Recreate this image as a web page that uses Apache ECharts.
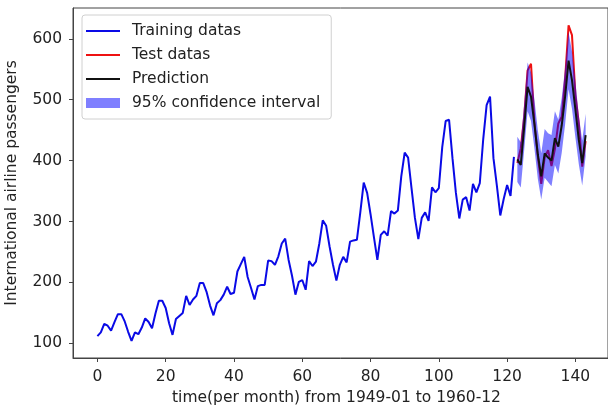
<!DOCTYPE html>
<html>
<head>
<meta charset="utf-8">
<script src="https://cdn.jsdelivr.net/npm/echarts@6/dist/echarts.min.js"></script>
<style>html,body{margin:0;padding:0;background:#fff;}#c{width:608px;height:407px;}</style>
</head>
<body>
<div id="c"></div>
<script>
// Monthly passengers, index 0 = 1949-01
const trainingValues = [
112,118,132,129,121,135,148,148,136,119,104,118,
115,126,141,135,125,149,170,170,158,133,114,140,
145,150,178,163,172,178,199,199,184,162,146,166,
171,180,193,181,183,218,230,242,209,191,172,194,
196,196,236,235,229,243,264,272,237,211,180,201,
204,188,235,227,234,264,302,293,259,229,203,229,
242,233,267,269,270,315,364,347,312,274,237,278,
284,277,317,313,318,374,413,405,355,306,271,306,
315,301,356,348,355,422,465,467,404,347,305,336,
340,318,362,348,363,435,491,505,404,359,310,337,
360,342,406
];
const testStart = 123;
const testValues = [396,420,472,548,559,463,407,362,405,417,391,419,461,472,535,622,606,508,461,390,432];
const predictionValues = [402,393,455,521,505,460,410,374,412,405,400,437,423,458,506,564,532,484,434,396,442];
const lowerValues = [365,356,417,481,465,420,370,336,372,365,358,393,379,413,460,517,485,438,394,359,407];
const upperValues = [439,430,493,561,545,500,450,412,452,445,442,481,467,503,552,611,579,530,474,433,477];
const xTicks = [0,20,40,60,80,100,120,140];
const yTicks = [100,200,300,400,500,600];

const trainData = trainingValues.map((v,i)=>[i,v]);
const testData = testValues.map((v,i)=>[testStart+i,v]);
const predData = predictionValues.map((v,i)=>[testStart+i,v]);
const bandData = lowerValues.map((v,i)=>[testStart+i,v,upperValues[i]]);

const FONT = 'DejaVu Sans';
const FS = 15.5;
const TXT = '#222';
const LINE_ICON = 'path://M0,0L34,0L34,2L0,2Z';
const chart = echarts.init(document.getElementById('c'), null, {renderer:'canvas'});
chart.setOption({
  animation:false,
  backgroundColor:'#fff',
  grid:{left:73, right:0, top:8, bottom:49, outerBoundsMode:'none', containLabel:false,
        show:true, borderColor:'#444', borderWidth:1, backgroundColor:'transparent'},
  legend:{
    orient:'vertical', left:82, top:15,
    padding:[8,11,8,4], itemWidth:34, itemHeight:10, itemGap:8,
    symbolKeepAspect:true,
    backgroundColor:'#fff', borderColor:'#d0d0d0', borderWidth:1, borderRadius:3,
    textStyle:{fontFamily:FONT, fontSize:FS, color:TXT, padding:[0,0,0,7]},
    data:[
      {name:'Training datas', icon:LINE_ICON},
      {name:'Test datas', icon:LINE_ICON},
      {name:'Prediction', icon:LINE_ICON},
      {name:'95% confidence interval', icon:'rect', itemStyle:{color:'rgba(0,0,255,0.5)'}}
    ]
  },
  xAxis:{
    type:'value', min:-7.15, max:149.55,
    name:'time(per month) from 1949-01 to 1960-12', nameLocation:'middle', nameGap:30,
    nameTextStyle:{fontFamily:FONT, fontSize:FS, color:TXT, padding:[0,8,0,0]},
    axisLine:{show:true, onZero:false, lineStyle:{color:'#444', width:1}},
    axisTick:{show:true, length:4, lineStyle:{color:'#444'}, customValues:xTicks},
    axisLabel:{fontFamily:FONT, fontSize:FS, color:TXT, margin:11, customValues:xTicks},
    splitLine:{show:false}
  },
  yAxis:{
    type:'value', min:76, max:650.5,
    name:'International airline passengers', nameLocation:'middle', nameGap:53,
    nameTextStyle:{fontFamily:FONT, fontSize:FS, color:TXT},
    axisLine:{show:true, onZero:false, lineStyle:{color:'#444', width:1}},
    axisTick:{show:true, length:4, lineStyle:{color:'#444'}, customValues:yTicks},
    axisLabel:{fontFamily:FONT, fontSize:FS, color:TXT, margin:11, customValues:yTicks},
    splitLine:{show:false}
  },
  series:[
    {name:'Training datas', type:'line', data:trainData, symbol:'none', z:2,
     color:'#0a0ae6', itemStyle:{color:'#0a0ae6'}, lineStyle:{color:'#0a0ae6', width:2}},
    {name:'Test datas', type:'line', data:testData, symbol:'none', z:3,
     color:'#ee1111', itemStyle:{color:'#ee1111'}, lineStyle:{color:'#ee1111', width:2}},
    {name:'95% confidence interval', type:'custom', data:bandData, z:4, silent:true, clip:true,
     encode:{x:0, y:[1,2]},
     itemStyle:{color:'rgba(0,0,255,0.5)'},
     renderItem:function(params, api){
       if (params.dataIndex !== 0) return null;
       const pts = [];
       for (let i=0;i<bandData.length;i++) pts.push(api.coord([bandData[i][0], bandData[i][2]]));
       for (let i=bandData.length-1;i>=0;i--) pts.push(api.coord([bandData[i][0], bandData[i][1]]));
       return {type:'polygon', shape:{points:pts}, style:{fill:'rgba(0,0,255,0.5)'}};
     }},
    {name:'Prediction', type:'line', data:predData, symbol:'none', z:5,
     color:'#111', itemStyle:{color:'#111'}, lineStyle:{color:'#111', width:2}}
  ]
});
</script>
</body>
</html>
